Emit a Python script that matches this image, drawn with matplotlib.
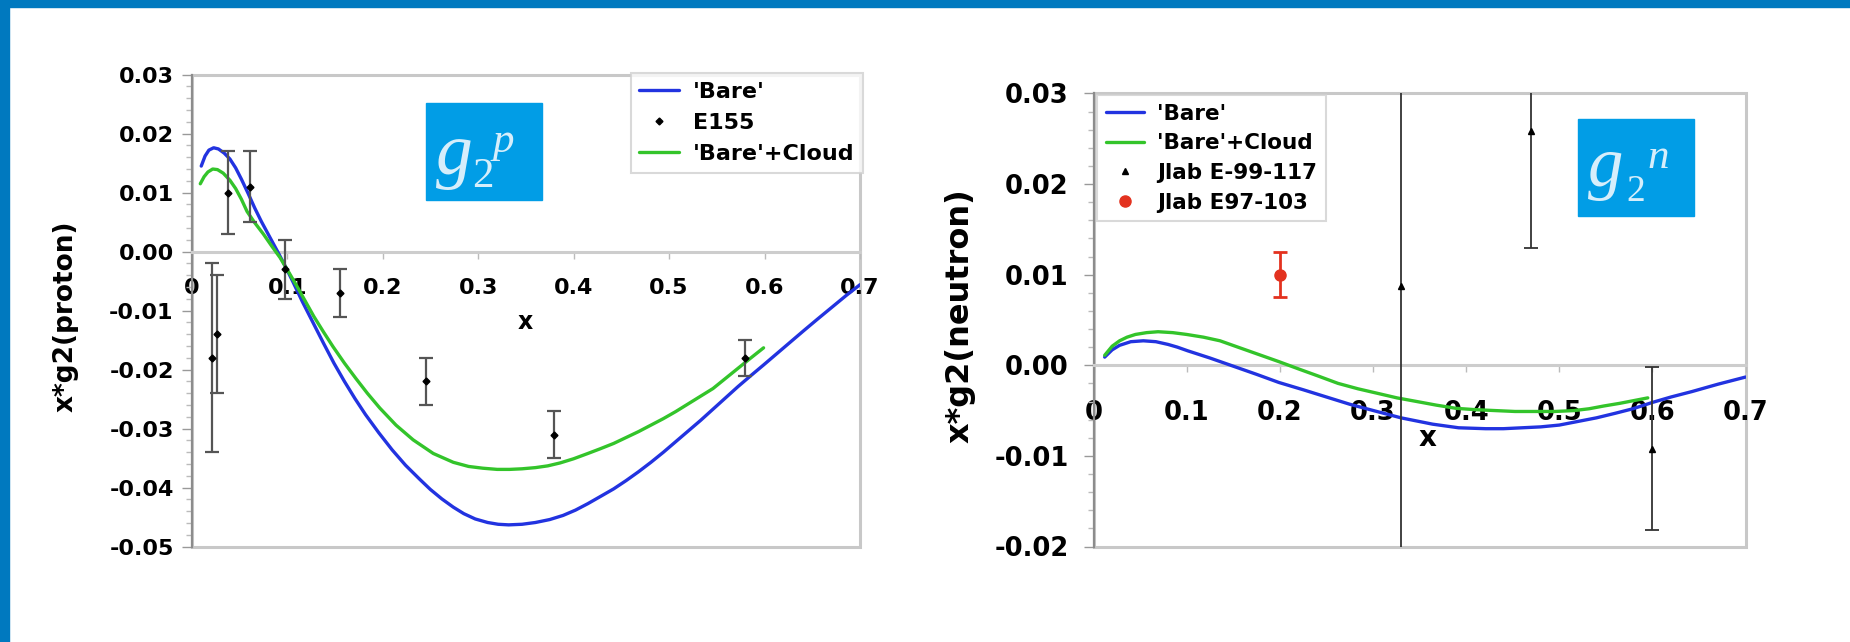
import matplotlib
matplotlib.use("Agg")
import matplotlib.pyplot as plt
from matplotlib.patches import Rectangle
from matplotlib.ticker import MultipleLocator, FixedLocator, FixedFormatter, FuncFormatter

plt.rcParams['font.family'] = ['DejaVu Sans']
plt.rcParams['font.weight'] = 'bold'

# ---------------- data: proton ----------------
p_bare_x = [0.010, 0.014, 0.018, 0.023, 0.028, 0.034, 0.040, 0.046, 0.052, 0.059, 0.066, 0.073,
            0.080, 0.086, 0.092, 0.099, 0.106, 0.116, 0.127, 0.138, 0.149, 0.160, 0.171, 0.182,
            0.196, 0.210, 0.224, 0.239, 0.250, 0.262, 0.274, 0.285, 0.297, 0.310, 0.321, 0.332,
            0.346, 0.360, 0.375, 0.389, 0.402, 0.415, 0.428, 0.442, 0.455, 0.468, 0.481, 0.494,
            0.507, 0.520, 0.533, 0.546, 0.559, 0.572, 0.585, 0.599, 0.620, 0.641, 0.655, 0.670,
            0.685, 0.700]
p_bare_y = [0.0145, 0.0162, 0.0172, 0.0176, 0.0174, 0.0167, 0.0157, 0.0142, 0.0123, 0.0099,
            0.0074, 0.0051, 0.0030, 0.0012, -0.0006, -0.0028, -0.0051, -0.0085, -0.0120, -0.0155,
            -0.0189, -0.0220, -0.0249, -0.0276, -0.0307, -0.0336, -0.0362, -0.0386, -0.0403,
            -0.0419, -0.0433, -0.0444, -0.0453, -0.0459, -0.0462, -0.0463, -0.0462, -0.0459,
            -0.0454, -0.0447, -0.0438, -0.0427, -0.0415, -0.0402, -0.0388, -0.0373, -0.0357,
            -0.0340, -0.0322, -0.0304, -0.0286, -0.0267, -0.0248, -0.0229, -0.0211, -0.0192,
            -0.0163, -0.0134, -0.0115, -0.0095, -0.0075, -0.0056]
p_cloud_x = [0.009, 0.013, 0.017, 0.022, 0.027, 0.033, 0.040, 0.046, 0.052, 0.058, 0.066, 0.075,
             0.084, 0.0925, 0.101, 0.110, 0.119, 0.128, 0.138, 0.148, 0.160, 0.172, 0.184, 0.197,
             0.214, 0.232, 0.253, 0.274, 0.290, 0.305, 0.320, 0.333, 0.346, 0.360, 0.373, 0.386,
             0.400, 0.415, 0.428, 0.442, 0.455, 0.468, 0.481, 0.494, 0.507, 0.520, 0.533, 0.546,
             0.559, 0.572, 0.585, 0.599]
p_cloud_y = [0.0115, 0.0127, 0.0135, 0.0140, 0.0139, 0.0133, 0.0121, 0.0107, 0.0089, 0.0068,
             0.0049, 0.0030, 0.0009, -0.0010, -0.0033, -0.0058, -0.0084, -0.0110, -0.0136,
             -0.0161, -0.0189, -0.0215, -0.0240, -0.0265, -0.0294, -0.0319, -0.0342, -0.0357,
             -0.0364, -0.0367, -0.0369, -0.0369, -0.0368, -0.0366, -0.0363, -0.0358, -0.0351,
             -0.0342, -0.0334, -0.0325, -0.0315, -0.0305, -0.0294, -0.0283, -0.0271, -0.0258,
             -0.0245, -0.0232, -0.0215, -0.0198, -0.0181, -0.0163]
e155_x = [0.021, 0.026, 0.038, 0.061, 0.098, 0.155, 0.245, 0.380, 0.580]
e155_y = [-0.018, -0.014, 0.010, 0.011, -0.003, -0.007, -0.022, -0.031, -0.018]
e155_lo = [-0.034, -0.024, 0.003, 0.005, -0.008, -0.011, -0.026, -0.035, -0.021]
e155_hi = [-0.002, -0.004, 0.017, 0.017, 0.002, -0.003, -0.018, -0.027, -0.015]

# ---------------- data: neutron ----------------
n_bare_x = [0.012, 0.020, 0.028, 0.040, 0.0535, 0.067, 0.080, 0.090, 0.101, 0.125, 0.150, 0.175,
            0.199, 0.225, 0.250, 0.275, 0.3005, 0.330, 0.364, 0.392, 0.421, 0.440, 0.460, 0.480,
            0.500, 0.520, 0.540, 0.560, 0.579, 0.600, 0.620, 0.6425, 0.670, 0.700]
n_bare_y = [0.0009, 0.0017, 0.0022, 0.0026, 0.0027, 0.0026, 0.0023, 0.0020, 0.0016, 0.0008,
            -0.0001, -0.0010, -0.0019, -0.0027, -0.0035, -0.0043, -0.0050, -0.0058, -0.0065,
            -0.0069, -0.0070, -0.0070, -0.0069, -0.0068, -0.0066, -0.0062, -0.0058, -0.0053,
            -0.0048, -0.0041, -0.0035, -0.0029, -0.0021, -0.0013]
n_cloud_x = [0.012, 0.020, 0.028, 0.036, 0.045, 0.057, 0.0693, 0.085, 0.100, 0.118, 0.1358,
             0.155, 0.177, 0.199, 0.220, 0.2415, 0.2625, 0.284, 0.305, 0.3258, 0.347, 0.368,
             0.389, 0.410, 0.431, 0.4525, 0.474, 0.495, 0.5158, 0.532, 0.5475, 0.565, 0.580,
             0.595]
n_cloud_y = [0.0011, 0.0021, 0.0027, 0.0031, 0.0034, 0.0036, 0.0037, 0.0036, 0.0034, 0.0031,
             0.0027, 0.0020, 0.0012, 0.0004, -0.0004, -0.0012, -0.0020, -0.0026, -0.0031,
             -0.0036, -0.0040, -0.0044, -0.00475, -0.0049, -0.0050, -0.0051, -0.0051, -0.0051,
             -0.0050, -0.0048, -0.0045, -0.0042, -0.0039, -0.0036]
e99_x = [0.330, 0.470, 0.600]
e99_y = [0.0088, 0.0258, -0.0092]
e99_err = [0.0293, 0.0129, 0.0090]
e97_x = [0.200]
e97_y = [0.0100]
e97_err = [0.0025]

x_ticks = [0, 0.1, 0.2, 0.3, 0.4, 0.5, 0.6, 0.7]
x_tick_labels = ['0', '0.1', '0.2', '0.3', '0.4', '0.5', '0.6', '0.7']

BLUE = '#2233e0'
GREEN = '#33c42a'

W, H = 1850, 642
fig = plt.figure(figsize=(W / 100, H / 100), dpi=100)
fig.patch.set_facecolor('white')

# blue slide frame
fig.patches.append(Rectangle((0, 1 - 7 / H), 1, 7 / H, transform=fig.transFigure,
                             color='#0079bf', zorder=0))
fig.patches.append(Rectangle((0, 0), 9 / W, 1, transform=fig.transFigure,
                             color='#0079bf', zorder=0))


def axes_px(l, r, t, b):
    return fig.add_axes([l / W, 1 - b / H, (r - l) / W, (b - t) / H])


def yfmt(v, pos):
    return '%.2f' % (round(v, 4) + 0.0)


def style_axes(ax, ylo, yhi, tick_fs, xpad, ypad):
    ax.set_xlim(0, 0.7)
    ax.set_ylim(ylo, yhi)
    for s in ['top', 'right']:
        ax.spines[s].set_visible(False)
    ax.spines['left'].set_color('#8c8c8c')
    ax.spines['left'].set_linewidth(1.6)
    ax.spines['bottom'].set_position(('data', 0))
    ax.spines['bottom'].set_color('#cdcdcd')
    ax.spines['bottom'].set_linewidth(2.2)
    ax.add_patch(Rectangle((0, 0), 1, 1, transform=ax.transAxes, fill=False,
                           edgecolor='#c8c8c8', lw=2.2, clip_on=False, zorder=0.5))
    ax.xaxis.set_major_locator(FixedLocator(x_ticks))
    ax.xaxis.set_major_formatter(FixedFormatter(x_tick_labels))
    ax.yaxis.set_major_locator(MultipleLocator(0.01))
    ax.yaxis.set_minor_locator(MultipleLocator(0.002))
    ax.yaxis.set_major_formatter(FuncFormatter(yfmt))
    ax.tick_params(axis='x', direction='out', length=5, width=1, color='#bbbbbb',
                   labelsize=tick_fs, pad=xpad)
    ax.tick_params(axis='y', which='major', direction='out', length=7, width=1,
                   color='#999999', labelsize=tick_fs, pad=ypad)
    ax.tick_params(axis='y', which='minor', direction='out', length=4, width=1,
                   color='#bbbbbb')
    for lab in ax.get_xticklabels() + ax.get_yticklabels():
        lab.set_fontweight('bold')


line_kw = dict(lw=2.4, solid_joinstyle='round', solid_capstyle='round', zorder=3)

# ---------------- left: proton ----------------
ax1 = axes_px(191.7, 860, 74.6, 546.7)
style_axes(ax1, -0.05, 0.03, 16, 14, 6)
ax1.plot(p_bare_x, p_bare_y, color=BLUE, label="'Bare'", **line_kw)
ax1.errorbar(e155_x, e155_y,
             yerr=[[y - lo for y, lo in zip(e155_y, e155_lo)],
                   [hi - y for y, hi in zip(e155_y, e155_hi)]],
             fmt='none', ecolor='#555555', elinewidth=1.6, capsize=5, capthick=1.6, zorder=4)
ax1.plot(e155_x, e155_y, 'D', color='black', markersize=3.5, label='E155', zorder=5)
ax1.plot(p_cloud_x, p_cloud_y, color=GREEN, label="'Bare'+Cloud", **line_kw)
ax1.set_ylabel('x*g2(proton)', fontsize=19, fontweight='bold')
ax1.yaxis.set_label_coords(79 / W, 1 - 316 / H, transform=fig.transFigure)
fig.text(525 / W, 1 - 322 / H, 'x', fontsize=17, fontweight='bold', ha='center', va='center')
leg1 = ax1.legend(loc='upper right', bbox_to_anchor=(863.3 / W, 1 - 72.7 / H),
                  bbox_transform=fig.transFigure, fontsize=16, frameon=True, fancybox=False,
                  edgecolor='#d0d0d0', handlelength=1.8, handletextpad=0.6,
                  labelspacing=0.5, borderpad=0.4, borderaxespad=0)
leg1.get_frame().set_linewidth(1.5)
for t in leg1.get_texts():
    t.set_fontweight('bold')

# ---------------- right: neutron ----------------
ax2 = axes_px(1093.5, 1745.6, 93.4, 546.5)
style_axes(ax2, -0.02, 0.03, 18.5, 20, 11)
ax2.plot(n_bare_x, n_bare_y, color=BLUE, label="'Bare'", **line_kw)
ax2.plot(n_cloud_x, n_cloud_y, color=GREEN, label="'Bare'+Cloud", **line_kw)
ax2.errorbar(e99_x, e99_y, yerr=e99_err, fmt='none', ecolor='#333333', elinewidth=1.3,
             capsize=5, capthick=1.3, zorder=4)
ax2.plot(e99_x, e99_y, '^', color='black', markersize=5, label='Jlab E-99-117', zorder=5)
ax2.errorbar(e97_x, e97_y, yerr=e97_err, fmt='none', ecolor='#e3321f', elinewidth=2,
             capsize=5, capthick=2, zorder=4)
ax2.plot(e97_x, e97_y, 'o', color='#e3321f', markersize=8, label='Jlab E97-103', zorder=5)
ax2.set_ylabel('x*g2(neutron)', fontsize=23, fontweight='bold')
ax2.yaxis.set_label_coords(976 / W, 1 - 316 / H, transform=fig.transFigure)
fig.text(1428 / W, 1 - 438 / H, 'x', fontsize=20, fontweight='bold', ha='center', va='center')
leg2 = ax2.legend(loc='upper left', bbox_to_anchor=(1097 / W, 1 - 95 / H),
                  bbox_transform=fig.transFigure, fontsize=15.5, frameon=True, fancybox=False,
                  edgecolor='#d0d0d0', handlelength=1.8, handletextpad=0.6,
                  labelspacing=0.45, borderpad=0.4, borderaxespad=0)
leg2.get_frame().set_linewidth(1.5)
for t in leg2.get_texts():
    t.set_fontweight('bold')

# ---------------- g2 badges ----------------
BADGE_TXT = '#d6eefb'
serif = dict(family='Liberation Serif', fontweight='normal', color=BADGE_TXT,
             ha='left', va='baseline', zorder=6)
badges = [
    # box (left, top), g (x, baseline, size), '2' (x, baseline, size), letter, (x, baseline, size)
    ((426, 103), (436, 174, 53), (472, 187, 31), 'p', (493, 152, 31)),
    ((1578, 119), (1588, 186, 51), (1626, 201, 27), 'n', (1647, 168, 31)),
]
for (bl, bt), gpos, tpos, letter, lpos in badges:
    fig.patches.append(Rectangle((bl / W, 1 - (bt + 97) / H), 116 / W, 97 / H,
                                 transform=fig.transFigure, color='#019de6', zorder=5))
    fig.text(gpos[0] / W, 1 - gpos[1] / H, 'g', fontsize=gpos[2], style='italic', **serif)
    fig.text(tpos[0] / W, 1 - tpos[1] / H, '2', fontsize=tpos[2], **serif)
    fig.text(lpos[0] / W, 1 - lpos[1] / H, letter, fontsize=lpos[2], style='italic', **serif)

fig.savefig('out.png', dpi=100)
